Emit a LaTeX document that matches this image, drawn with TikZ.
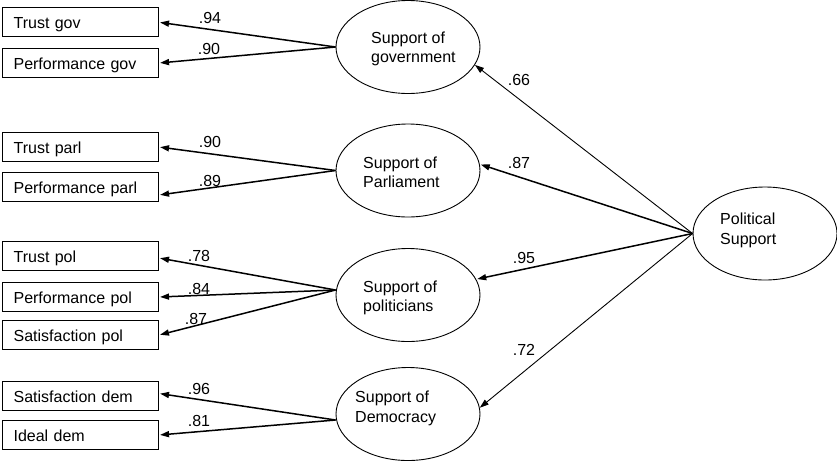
\documentclass[tikz,border=0pt]{standalone}
\usepackage{fontspec}
\setmainfont{Liberation Sans}
\usetikzlibrary{shapes.geometric,arrows.meta}

\tikzset{
  obs/.style={draw, line width=0.9pt, text width=134pt, align=left,
    inner xsep=11pt, inner ysep=0pt, minimum height=29pt,
    text height=14pt, text depth=1pt},
  lat/.style={draw, ellipse, line width=0.9pt, inner sep=0pt,
    minimum width=144pt, minimum height=93pt},
  lattext/.style={anchor=west, align=left, inner sep=0pt},
  coef/.style={inner sep=0pt},
  load/.style={-{Triangle[length=9pt,width=6pt]}, line width=1.5pt, shorten >=1pt},
  thinload/.style={-{Triangle[length=9pt,width=6pt]}, line width=0.9pt}
}

\begin{document}
\begin{tikzpicture}[x=1pt, y=-1pt, font=\fontsize{16}{19.5}\selectfont]
\useasboundingbox (0,0) rectangle (837,464);

% observed indicators
\node[obs] (tg)  at (80.6, 22.3)  {Trust gov};
\node[obs] (pg)  at (80.6, 63)    {Performance gov};
\node[obs] (tp)  at (80.6, 147)   {Trust parl};
\node[obs] (pp)  at (80.6, 187)   {Performance parl};
\node[obs] (tpo) at (80.6, 256)   {Trust pol};
\node[obs] (ppo) at (80.6, 297)   {Performance pol};
\node[obs] (spo) at (80.6, 335)   {Satisfaction pol};
\node[obs] (sd)  at (80.6, 395.5) {Satisfaction dem};
\node[obs] (id)  at (80.6, 435)   {Ideal dem};

% latent factors
\node[lat] (gov)  at (408, 47)    {};
\node[lat] (parl) at (408, 170.5) {};
\node[lat] (pol)  at (408, 295)   {};
\node[lat] (dem)  at (408, 414)   {};
\node[lat] (ps)   at (765, 233.5) {};

\node[lattext] (govt)  at (371, 48.9)  {Support of\\government};
\node[lattext] (parlt) at (363, 172.2) {Support of\\Parliament};
\node[lattext] (polt)  at (363, 297.9) {Support of\\politicians};
\node[lattext] (demt)  at (355, 408.6) {Support of\\Democracy};
\node[lattext] (pst)   at (720, 230.6) {Political\\Support};

% factor loadings
\draw[load] (gov.west) -- (tg.east);
\draw[load] (gov.west) -- (pg.east);
\draw[load] (parl.west) -- (tp.east);
\draw[load] (parl.west) -- ([yshift=-8pt]pp.east);
\draw[load] ([yshift=5pt]pol.west) -- ([yshift=-2pt]tpo.east);
\draw[load] ([yshift=5pt]pol.west) -- (ppo.east);
\draw[load] ([yshift=5pt]pol.west) -- (spo.east);
\draw[load] ([yshift=-6pt]dem.west) -- ([yshift=2pt]sd.east);
\draw[load] ([yshift=-6pt]dem.west) -- (id.east);

% second-order loadings
\draw[thinload] (ps.west) -- (gov.-15);
\draw[load]     (ps.west) -- (parl.5);
\draw[load]     (ps.west) -- (pol.13);
\draw[thinload] (ps.west) -- (dem.5);

% coefficients
\node[coef] (c1)  at (210, 17.5)  {.94};
\node[coef] (c2)  at (209, 49)    {.90};
\node[coef] (c3)  at (210, 141.5) {.90};
\node[coef] (c4)  at (210, 181)   {.89};
\node[coef] (c5)  at (199, 256)   {.78};
\node[coef] (c6)  at (199, 288.5) {.84};
\node[coef] (c7)  at (196, 318.5) {.87};
\node[coef] (c8)  at (199, 388.5) {.96};
\node[coef] (c9)  at (199, 420.5) {.81};
\node[coef] (c10) at (519, 79.5)  {.66};
\node[coef] (c11) at (519, 162.5) {.87};
\node[coef] (c12) at (524, 258)   {.95};
\node[coef] (c13) at (524, 350)   {.72};
\end{tikzpicture}
\end{document}
